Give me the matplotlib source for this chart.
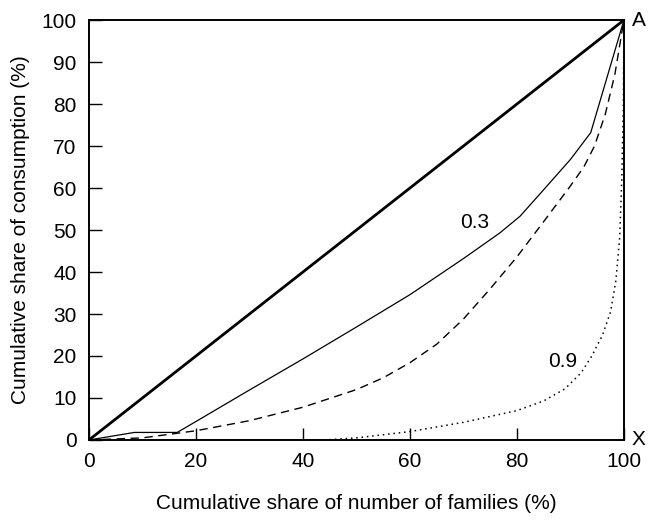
import matplotlib
matplotlib.use("Agg")
import matplotlib.pyplot as plt

plt.rcParams.update({
    "font.family": ["Liberation Sans", "DejaVu Sans"],
    "font.size": 15,
})

# line of equality
eq_x = [0, 100]
eq_y = [0, 100]

# curve labelled 0.3 (thin solid)
c03_x = [0, 8.5, 16.5, 20, 30, 40, 50, 60, 70, 76.8, 80.6, 85, 90, 93.8, 100]
c03_y = [0, 1.8, 1.8, 4.4, 11.9, 19.3, 26.9, 34.6, 43.2, 49.3, 53.3, 59.6, 66.8, 73.2, 100]

# middle curve (dashed)
mid_x = [0, 10, 20, 30, 40, 50, 55, 60, 65, 70, 75, 80, 85, 90, 92.5, 94.5, 96.5, 98.3, 100]
mid_y = [0, 0.5, 2.2, 4.6, 7.8, 12, 14.8, 18.4, 22.8, 28.8, 36, 43.6, 52, 60.5, 65, 70, 77.5, 87, 100]

# curve labelled 0.9 (dotted)
c09_x = [0, 44, 50, 60, 70, 80, 85, 89, 92, 94, 96, 97.5, 98.5, 99.2, 99.6, 99.9, 100]
c09_y = [0, 0, 0.5, 2, 4.2, 7, 9.3, 12.2, 16, 20, 25, 30.5, 38, 48, 62, 80, 100]

yticks = [0, 10, 20, 30, 40, 50, 60, 70, 80, 90, 100]
xticks = [0, 20, 40, 60, 80, 100]

fig = plt.figure(figsize=(6.54, 5.21), dpi=100)
ax = fig.add_axes([0.136, 0.1555, 0.818, 0.806])

ax.plot(eq_x, eq_y, color="black", lw=2.0, solid_capstyle="round")
ax.plot(c03_x, c03_y, color="black", lw=0.9)
ax.plot(mid_x, mid_y, color="black", lw=1.0, ls=(0, (6, 4)))
ax.plot(c09_x, c09_y, color="black", lw=1.1, ls=(0, (1, 2.5)))

ax.text(72.1, 51.8, "0.3", ha="center", va="center")
ax.text(88.5, 18.6, "0.9", ha="center", va="center")
ax.text(101.5, 100, "A", ha="left", va="center", clip_on=False)
ax.text(101.5, 0, "X", ha="left", va="center", clip_on=False)

ax.set_xlim(0, 100)
ax.set_ylim(0, 100)
ax.set_xticks(xticks)
ax.set_yticks(yticks)
ax.tick_params(direction="in", length=9, width=1.0, pad=9)
for s in ax.spines.values():
    s.set_linewidth(1.4)

ax.set_xlabel("Cumulative share of number of families (%)", labelpad=16)
ax.set_ylabel("Cumulative share of consumption (%)", labelpad=8)

fig.savefig("out.png", dpi=100)
